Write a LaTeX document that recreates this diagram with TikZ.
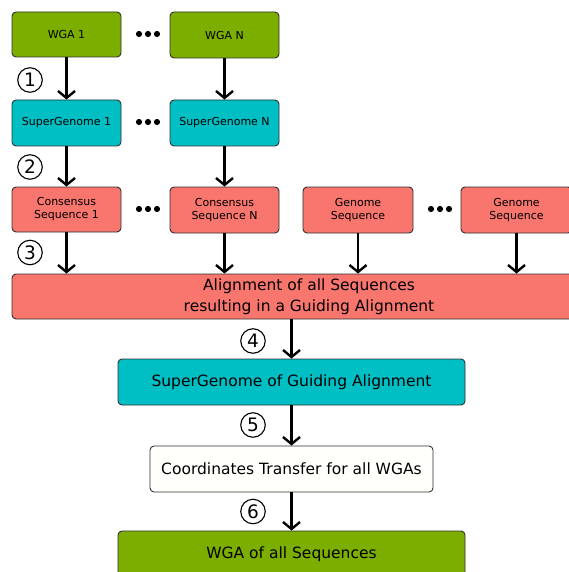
\documentclass[tikz,border=0pt]{standalone}
\usepackage{fontspec}
\setmainfont{DejaVu Sans}
\usetikzlibrary{arrows.meta}
\definecolor{cgreen}{HTML}{7CAE00}
\definecolor{ccyan}{HTML}{00BFC4}
\definecolor{csalmon}{HTML}{F8766D}
\definecolor{cwhite}{HTML}{FFFFFC}
\definecolor{cborder}{HTML}{303030}
\tikzset{
  box/.style={draw=cborder, line width=0.9pt, rounded corners=4pt, inner sep=0pt, align=center,
    font=\fontsize{11}{13}\selectfont},
  bigbox/.style={box, font=\fontsize{15.5}{20.5}\selectfont},
  flow/.style={line width=2.6pt, -{Straight Barb[length=7pt,width=17pt,line width=2.4pt]}},
  stepnum/.style={circle, draw=black, line width=1.1pt, minimum size=24.5pt, inner sep=0pt,
    font=\fontsize{18.5}{18.5}\selectfont},
}
\begin{document}
\begin{tikzpicture}[x=1pt,y=-1pt]
\useasboundingbox (0,0) rectangle (568,572);
% row 1
\node[box, fill=cgreen, minimum width=109pt, minimum height=45pt] (w1) at (66.5,34.5) {WGA 1};
\node[box, fill=cgreen, minimum width=109pt, minimum height=46pt] (wn) at (224.5,35) {WGA N};
% row 2
\node[box, fill=ccyan, minimum width=109pt, minimum height=46pt] (s1) at (66.5,123) {SuperGenome 1};
\node[box, fill=ccyan, minimum width=109pt, minimum height=46pt] (sn) at (224.5,123) {SuperGenome N};
% row 3
\node[box, fill=csalmon, minimum width=109pt, minimum height=45pt] (c1) at (66.5,209.5) {Consensus\\Sequence 1};
\node[box, fill=csalmon, minimum width=109pt, minimum height=46pt] (cn) at (224.5,210) {Consensus\\Sequence N};
\node[box, fill=csalmon, minimum width=110pt, minimum height=46pt] (g1) at (358,210) {Genome\\Sequence};
\node[box, fill=csalmon, minimum width=111pt, minimum height=46pt] (g2) at (516.5,210) {Genome\\Sequence};
% alignment
\node[bigbox, fill=csalmon, minimum width=594pt, minimum height=45pt] (al) at (309,296.5) {Alignment of all Sequences\\resulting in a Guiding Alignment};
\node[bigbox, fill=ccyan, minimum width=347pt, minimum height=46pt] (sg) at (291.5,382) {SuperGenome of Guiding Alignment};
\node[bigbox, fill=cwhite, minimum width=283pt, minimum height=46pt] (ct) at (291.5,469) {Coordinates Transfer for all WGAs};
\node[bigbox, fill=cgreen, minimum width=347pt, minimum height=46pt] (wa) at (291.5,554) {WGA of all Sequences};
% arrows
\draw[flow] (w1.south) -- (s1.north);
\draw[flow] (wn.south) -- (sn.north);
\draw[flow] (s1.south) -- (c1.north);
\draw[flow] (sn.south) -- (cn.north);
\draw[flow] (c1.south) -- (c1.south |- al.north);
\draw[flow] (cn.south) -- (cn.south |- al.north);
\draw[flow] (g1.south) -- (g1.south |- al.north);
\draw[flow] (g2.south) -- (g2.south |- al.north);
\draw[flow] (al.south -| sg.north) -- (sg.north);
\draw[flow] (sg.south) -- (ct.north);
\draw[flow] (ct.south) -- (wa.north);
% step numbers
\node[stepnum] (n1) at (30,80) {1};
\node[stepnum] (n2) at (30,167) {2};
\node[stepnum] (n3) at (30,252.5) {3};
\node[stepnum] (n4) at (253,341) {4};
\node[stepnum] (n5) at (253,425) {5};
\node[stepnum] (n6) at (253,511.5) {6};
% dots
\foreach \y in {34,122,209}{
  \foreach \x in {139,148,157} \fill (\x,\y) circle (3.1pt);
}
\foreach \x in {431,440,449} \fill (\x,209) circle (3.1pt);
\end{tikzpicture}
\end{document}
